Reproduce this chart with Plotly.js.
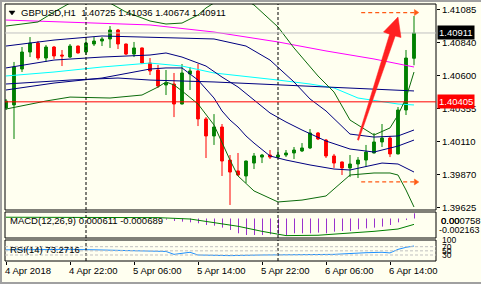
<!DOCTYPE html>
<html><head><meta charset="utf-8">
<script src="https://cdn.plot.ly/plotly-3.0.1.min.js"></script>
<style>html,body{margin:0;padding:0;background:#fffff0;}#chart{width:481px;height:284px;}</style>
</head><body><div id="chart"></div>
<script>
// ---------- data ----------
const symbol = 'GBPUSD';
const timeframe = 'H1';
const opens  = [1.40360,1.40382,1.40646,1.40771,1.40837,1.40727,1.40808,1.40749,1.40734,1.40815,1.40771,1.40830,1.40852,1.40867,1.40933,1.40830,1.40756,1.40801,1.40690,1.40639,1.40529,1.40536,1.40389,1.40610,1.40632,1.40279,1.40154,1.40220,1.39977,1.39897,1.39860,1.39955,1.39999,1.40014,1.39999,1.40014,1.40029,1.40044,1.40066,1.40176,1.40124,1.40007,1.39963,1.39919,1.39948,1.39977,1.40029,1.40110,1.40139,1.40022,1.40345,1.40725];
const highs  = [1.40426,1.40698,1.40808,1.40881,1.40852,1.40823,1.40815,1.40786,1.40830,1.40818,1.40859,1.40881,1.40881,1.40962,1.40940,1.40833,1.40845,1.40804,1.40727,1.40676,1.40639,1.40617,1.40683,1.40661,1.40683,1.40293,1.40315,1.40242,1.40014,1.40029,1.39973,1.40029,1.40022,1.40051,1.40051,1.40051,1.40073,1.40102,1.40205,1.40183,1.40132,1.40022,1.39966,1.40014,1.39999,1.40088,1.40176,1.40242,1.40154,1.40367,1.40786,1.41036];
const lows   = [1.40345,1.40132,1.40624,1.40734,1.40712,1.40698,1.40720,1.40668,1.40727,1.40760,1.40749,1.40815,1.40815,1.40801,1.40793,1.40749,1.40734,1.40683,1.40602,1.40507,1.40455,1.40293,1.40386,1.40492,1.40227,1.39992,1.40088,1.39860,1.39647,1.39860,1.39808,1.39911,1.39955,1.39985,1.39992,1.39999,1.39985,1.40036,1.40058,1.40124,1.39992,1.39919,1.39867,1.39852,1.39845,1.39926,1.40026,1.40073,1.39999,1.40019,1.40308,1.40674];
const closes = [1.40411,1.40661,1.40771,1.40837,1.40727,1.40808,1.40742,1.40742,1.40815,1.40764,1.40837,1.40852,1.40867,1.40933,1.40830,1.40756,1.40801,1.40690,1.40632,1.40521,1.40543,1.40389,1.40617,1.40632,1.40279,1.40154,1.40220,1.39970,1.39889,1.39867,1.39970,1.40007,1.40014,1.39999,1.40014,1.40029,1.40051,1.40066,1.40176,1.40132,1.40007,1.39955,1.39919,1.39948,1.39977,1.40036,1.40110,1.40139,1.40022,1.40345,1.40727,1.40911];

const xTickIdx  = [0, 8, 16, 24, 32, 40, 48];
const xTickText = ['4 Apr 2018','4 Apr 22:00','5 Apr 06:00','5 Apr 14:00','5 Apr 22:00','6 Apr 06:00','6 Apr 14:00'];
const daySepIdx = [10, 34];
const priceTicks = [1.41085, 1.40840, 1.40600, 1.40355, 1.40110, 1.39870, 1.39625];
const redLevel = 1.40405;
const targetHigh = 1.41061;
const targetLow  = 1.39816;

// indicator lines (bar index, price)
const magentaIdx = [0, 12, 18, 26, 34, 40, 46, 51];
const magentaVal = [1.41006, 1.40984, 1.40970, 1.40918, 1.40845, 1.40779, 1.40720, 1.40661];
const cyanIdx = [0, 6, 12, 18, 22, 26, 34, 38, 41, 44, 49, 51];
const cyanVal = [1.40595, 1.40624, 1.40661, 1.40690, 1.40668, 1.40617, 1.40565, 1.40536, 1.40507, 1.40433, 1.40389, 1.40382];
const maSlowIdx = [0, 8, 14, 18, 26, 34, 41, 51];
const maSlowVal = [1.40536, 1.40565, 1.40580, 1.40565, 1.40551, 1.40529, 1.40514, 1.40485];
const bbUpIdx = [0, 6, 12, 18, 22, 26, 30, 33, 36, 38, 40, 43, 46, 49, 51];
const bbUpVal = [1.40815, 1.40859, 1.40889, 1.40881, 1.40874, 1.40867, 1.40815, 1.40712, 1.40551, 1.40426, 1.40338, 1.40168, 1.40146, 1.40154, 1.40198];
const bbMidIdx = [0, 6, 12, 18, 20, 22, 25, 27, 29, 31, 33, 35, 37, 40, 43, 46, 49, 51];
const bbMidVal = [1.40654, 1.40712, 1.40734, 1.40749, 1.40764, 1.40734, 1.40668, 1.40587, 1.40514, 1.40418, 1.40323, 1.40257, 1.40198, 1.40117, 1.40058, 1.40036, 1.40080, 1.40124];
const bbLowIdx = [0, 6, 12, 18, 20, 22, 24, 26, 27, 28, 29, 30, 31, 32, 33, 35, 38, 41, 43, 47, 49, 51];
const bbLowVal = [1.40492, 1.40543, 1.40580, 1.40646, 1.40654, 1.40654, 1.40565, 1.40433, 1.40338, 1.40271, 1.40220, 1.40154, 1.40102, 1.40051, 1.40007, 1.39977, 1.39941, 1.39911, 1.39904, 1.39955, 1.39948, 1.39889];
const bbOutUpIdx = [0, 4, 6, 8, 10, 12, 13, 15, 18, 20, 22, 24, 25, 27, 29, 31, 34, 36, 39, 41, 43, 46, 48, 49, 50, 51];
const bbOutUpVal = [1.40962, 1.40992, 1.41065, 1.41131, 1.41175, 1.41161, 1.41131, 1.41065, 1.40999, 1.40977, 1.40984, 1.41043, 1.41095, 1.41168, 1.41183, 1.41117, 1.40955, 1.40801, 1.40595, 1.40477, 1.40271, 1.40161, 1.40213, 1.40308, 1.40433, 1.40624];
const bbOutLowIdx = [0, 5, 8, 13, 17, 19, 20, 21, 22, 24, 26, 27, 28, 29, 31, 34, 37, 40, 42, 43, 46, 48, 49, 50, 51];
const bbOutLowVal = [1.40352, 1.40411, 1.40440, 1.40433, 1.40455, 1.40514, 1.40551, 1.40529, 1.40485, 1.40389, 1.40235, 1.40102, 1.39977, 1.39860, 1.39750, 1.39669, 1.39683, 1.39713, 1.39816, 1.39867, 1.39882, 1.39882, 1.39867, 1.39757, 1.39632];

// MACD(12,26,9)
const macdIdx = [20,21,22,23,24,25,26,27,28,29,30,31,32,33,34,35,36,37,38,39,40,41,42,43,44,45,46,47,48,49,50,51];
const macdVal = [-0.00014,-0.00029,-0.00037,-0.00045,-0.00056,-0.00076,-0.00084,-0.00107,-0.00134,-0.00173,-0.00193,-0.00193,-0.00193,-0.00185,-0.00193,-0.00193,-0.00173,-0.00173,-0.00173,-0.00165,-0.00173,-0.00154,-0.00146,-0.00146,-0.00126,-0.00115,-0.00107,-0.00095,-0.00076,-0.00045,-0.00018,0.000611];
const signalIdx = [0, 10, 19, 23, 26, 29, 32, 35, 39, 42, 46, 49, 51];
const signalVal = [0.00015, 0.00015, 0.00010, -0.00006, -0.00045, -0.00091, -0.00150, -0.00200, -0.00196, -0.00177, -0.00150, -0.00123, -0.000689];
const macdScaleMax = 0.000758, macdScaleMin = -0.002163;

// RSI(14)
const rsiIdx = [0, 4, 8, 11, 14, 17, 20, 21, 23, 24, 28, 32, 36, 41, 45, 47, 48, 49, 50, 51];
const rsiVal = [55, 57, 57, 55, 52, 50, 47, 33, 43, 30, 27, 30, 30, 33, 41, 43, 40, 57, 67, 73.2716];
const rsiLevels = [70, 50, 30];
const rsiAxisLabels = ['100', '70', '50', '30'];
const rsiAxisValues = [100, 70, 50, 30];

// ---------- layout helpers ----------
const W = 481, H = 284, ML = 5, MR = 45, MT = 4, MB = 23;
const PW = W - ML - MR, PH = H - MT - MB;
const px2x = px => (px - ML) / PW;
const py2y = py => (H - MB - py) / PH;
const FONT = 'Liberation Sans, Arial, sans-serif';
const bars = opens.map((_, i) => i);
const last = bars.length - 1;
const f5 = v => v.toFixed(5);

const mainDom = [py2y(210), 1];
const macdDom = [py2y(238), py2y(212)];
const rsiDom  = [0, py2y(240)];

const GREEN = '#008000', RED = '#ff0000', NAVY = '#000080', DGREEN = '#0b6b0b';

function line(x, y, color, yaxis) {
  return {type: 'scatter', mode: 'lines', x: x, y: y, yaxis: yaxis || 'y',
          line: {color: color, width: 1}, hoverinfo: 'skip', showlegend: false};
}

// MACD histogram as 1px vertical sticks from zero (half-pixel offset keeps them crisp)
const halfPx = 0.5 / 8;
const histX = [], histY = [];
macdIdx.forEach((ix, k) => { histX.push(ix + halfPx, ix + halfPx, null); histY.push(0, macdVal[k], null); });

const traces = [
  line(magentaIdx, magentaVal, '#ff00ff'),
  line(cyanIdx, cyanVal, '#00ffff'),
  line(maSlowIdx, maSlowVal, NAVY),
  line(bbUpIdx, bbUpVal, NAVY),
  line(bbMidIdx, bbMidVal, NAVY),
  line(bbLowIdx, bbLowVal, NAVY),
  line(bbOutUpIdx, bbOutUpVal, DGREEN),
  line(bbOutLowIdx, bbOutLowVal, DGREEN),
  {type: 'candlestick', x: bars, open: opens, high: highs, low: lows, close: closes,
   xaxis: 'x', yaxis: 'y', whiskerwidth: 0,
   increasing: {line: {color: GREEN, width: 1}, fillcolor: GREEN},
   decreasing: {line: {color: RED, width: 1}, fillcolor: RED},
   hoverinfo: 'skip', showlegend: false},
  {type: 'scatter', mode: 'lines', x: histX, y: histY, yaxis: 'y2', connectgaps: false,
   line: {color: '#9932cc', width: 1}, hoverinfo: 'skip', showlegend: false},
  line(signalIdx, signalVal, GREEN, 'y2'),
  line(rsiIdx, rsiVal, '#1e90ff', 'y3')
];

const shapes = [];
// panel frames
[mainDom, macdDom, rsiDom].forEach(d => shapes.push({type: 'rect', xref: 'paper', yref: 'paper',
  x0: 0, x1: 1, y0: d[0], y1: d[1], line: {color: '#000', width: 1}, layer: 'above'}));
// window frame (left, top, bottom)
shapes.push({type: 'path', xref: 'paper', yref: 'paper',
  path: `M ${px2x(481)} ${py2y(1)} L ${px2x(1)} ${py2y(1)} L ${px2x(1)} ${py2y(283)} L ${px2x(481)} ${py2y(283)}`,
  line: {color: '#a0a0a0', width: 2}});
// day separators
daySepIdx.forEach(ix => [mainDom, macdDom, rsiDom].forEach(d => shapes.push({type: 'line', xref: 'x', yref: 'paper',
  x0: ix, x1: ix, y0: d[0], y1: d[1], line: {color: '#000', width: 1, dash: '3px,2px'}})));
// bid line and red level
shapes.push({type: 'line', xref: 'paper', yref: 'y', x0: 0, x1: 1, y0: closes[last], y1: closes[last], line: {color: '#c0c0c0', width: 1}});
shapes.push({type: 'line', xref: 'paper', yref: 'y', x0: 0, x1: 1, y0: redLevel, y1: redLevel, line: {color: '#ff0000', width: 1}});
// rsi levels
rsiLevels.forEach(v => shapes.push({type: 'line', xref: 'paper', yref: 'y3', x0: 0, x1: 1, y0: v, y1: v,
  line: {color: '#c0c0c0', width: 1, dash: '3px,2px'}}));
// orange target lines with arrowheads
const ORANGE = '#ff5a14';
const pxPerPrice = (1 - mainDom[0]) * PH / 0.01514;
[targetHigh, targetLow].forEach(v => {
  shapes.push({type: 'line', xref: 'x', yref: 'y', x0: 44.4, x1: 51.1, y0: v, y1: v,
    line: {color: ORANGE, width: 1.2, dash: '4px,3px'}});
  const hh = 3 / pxPerPrice;
  shapes.push({type: 'path', xref: 'x', yref: 'y',
    path: `M 51.05 ${v - hh} L 51.6 ${v} L 51.05 ${v + hh} Z`, fillcolor: ORANGE, line: {color: ORANGE, width: 0.5}});
});
// big red arrow (drawing)
const arrowPts = [[398, 17], [401, 37.5], [395.2, 36], [358.6, 140.3], [357.4, 139.7], [389.6, 34.2], [383.5, 32]];
shapes.push({type: 'path', xref: 'paper', yref: 'paper',
  path: 'M ' + arrowPts.map(p => px2x(p[0]) + ' ' + py2y(p[1])).join(' L ') + ' Z',
  fillcolor: '#ff2020', line: {color: '#ff2020', width: 0.5}});
// small menu triangle
shapes.push({type: 'path', xref: 'paper', yref: 'paper',
  path: `M ${px2x(9)} ${py2y(11)} L ${px2x(15)} ${py2y(11)} L ${px2x(12)} ${py2y(15)} Z`,
  fillcolor: '#000', line: {color: '#000', width: 0.5}});

const ann = [];
function txt(text, xpx, ypx, opt) {
  opt = opt || {};
  ann.push(Object.assign({text: text, xref: 'paper', yref: 'paper', x: px2x(xpx), y: py2y(ypx),
    xanchor: 'left', yanchor: 'middle', showarrow: false, borderpad: 0,
    font: {family: FONT, size: 9.5, color: '#000'}}, opt));
}
txt(`${symbol},${timeframe}  ${f5(opens[last])} ${f5(highs[last])} ${f5(lows[last])} ${f5(closes[last])}`, 20, 13);
txt(`MACD(12,26,9) ${macdVal[macdVal.length - 1].toFixed(6)} ${signalVal[signalVal.length - 1].toFixed(6)}`, 9, 220);
txt(`RSI(14) ${rsiVal[rsiVal.length - 1].toFixed(4)}`, 9, 249.5);
txt(macdScaleMax.toFixed(6), 440, 220);
txt('0.00', 440, 220);
txt(macdScaleMin.toFixed(6), 438, 230, {font: {family: FONT, size: 9, color: '#000'}});
rsiAxisLabels.forEach((t, k) => txt(t, 441, 246.7 + (70 - rsiAxisValues[k]) * 0.2075, {font: {family: FONT, size: 8.5, color: '#000'}}));
xTickIdx.forEach((ix, k) => txt(xTickText[k], 6 + 8 * ix - 2, 270));
// highlighted price labels
ann.push({text: f5(closes[last]), xref: 'paper', yref: 'y', x: 1, y: closes[last], xanchor: 'left', yanchor: 'middle',
  xshift: 1, showarrow: false, bgcolor: '#000', borderpad: 1, font: {family: FONT, size: 9.5, color: '#fff'}});
ann.push({text: f5(redLevel), xref: 'paper', yref: 'y', x: 1, y: redLevel, xanchor: 'left', yanchor: 'middle',
  xshift: 1, showarrow: false, bgcolor: '#ff0000', borderpad: 1, font: {family: FONT, size: 9.5, color: '#fff'}});

const layout = {
  width: W, height: H, margin: {l: ML, r: MR, t: MT, b: MB, pad: 0},
  paper_bgcolor: '#fffff0', plot_bgcolor: '#fffff0', showlegend: false,
  boxgap: 0.5,
  xaxis: {range: [(ML - ML - 1) / 8, (ML + PW - 6) / 8], anchor: 'y3', showgrid: false, zeroline: false,
          showline: false, tickvals: xTickIdx, ticks: 'outside', ticklen: 3, tickcolor: '#000',
          showticklabels: false, rangeslider: {visible: false}, fixedrange: true},
  yaxis: {domain: mainDom, range: [1.39610, 1.41124], side: 'right', anchor: 'x', showgrid: false,
          zeroline: false, showline: false, tickvals: priceTicks, ticktext: priceTicks.map(f5),
          ticks: 'outside', ticklen: 3, tickcolor: '#000',
          tickfont: {family: FONT, size: 9.5, color: '#000'}, fixedrange: true},
  yaxis2: {domain: macdDom, range: [-0.00228, 0.00076], anchor: 'x', showgrid: false, zeroline: false,
           showticklabels: false, fixedrange: true},
  yaxis3: {domain: rsiDom, range: [1, 102.3], anchor: 'x', showgrid: false, zeroline: false,
           showticklabels: false, fixedrange: true},
  shapes: shapes, annotations: ann
};
Plotly.newPlot('chart', traces, layout, {staticPlot: true, displayModeBar: false});
</script></body></html>
